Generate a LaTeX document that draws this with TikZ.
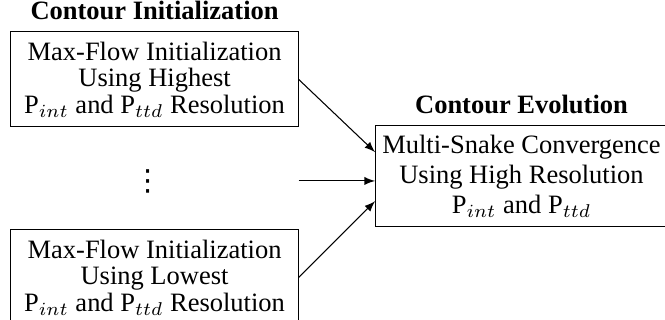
\documentclass[tikz,border=0pt]{standalone}
\usepackage{fontspec}
\setmainfont{Liberation Serif}
\newfontfamily\dotsfont{DejaVu Sans}
\usetikzlibrary{positioning}

\begin{document}
\begin{tikzpicture}[
    stage/.style={draw, align=center, inner sep=1pt, minimum width=3.81cm,
        minimum height=1.26cm, font=\fontsize{10}{10}\selectfont},
    merge/.style={draw, align=center, inner sep=1pt, minimum width=3.87cm,
        minimum height=1.35cm, font=\fontsize{10}{11.3}\selectfont},
    header/.style={font=\bfseries, inner sep=0pt},
    link/.style={-latex}]

\path[use as bounding box, clip] (0,0) rectangle (8.82,-4.244);

% initialization at the two resolutions
\node[stage] (high) at (2.05,-1.054)
   {Max-Flow Initialization\\ Using Highest\\ P$_{int}$ and P$_{ttd}$ Resolution};
\node[stage] (low) at (2.05,-3.68)
   {Max-Flow Initialization\\ Using Lowest\\ P$_{int}$ and P$_{ttd}$ Resolution};
\node[font=\dotsfont\fontsize{11}{11}\selectfont] (gap) at (1.96,-2.40) {⋮};

% evolution
\node[merge] (evo) at (6.917,-2.334)
   {Multi-Snake Convergence\\ Using High Resolution\\ P$_{int}$ and P$_{ttd}$};

\node[header, above=4pt of high] (inittitle) {Contour Initialization};
\node[header, above=4pt of evo] (evotitle) {Contour Evolution};

\draw[link] (high.east) -- ([yshift=9pt]evo.west);
\draw[link] (high.east |- gap) -- (gap -| evo.west);
\draw[link] (low.east) -- ([yshift=-9.5pt]evo.west);
\end{tikzpicture}
\end{document}
